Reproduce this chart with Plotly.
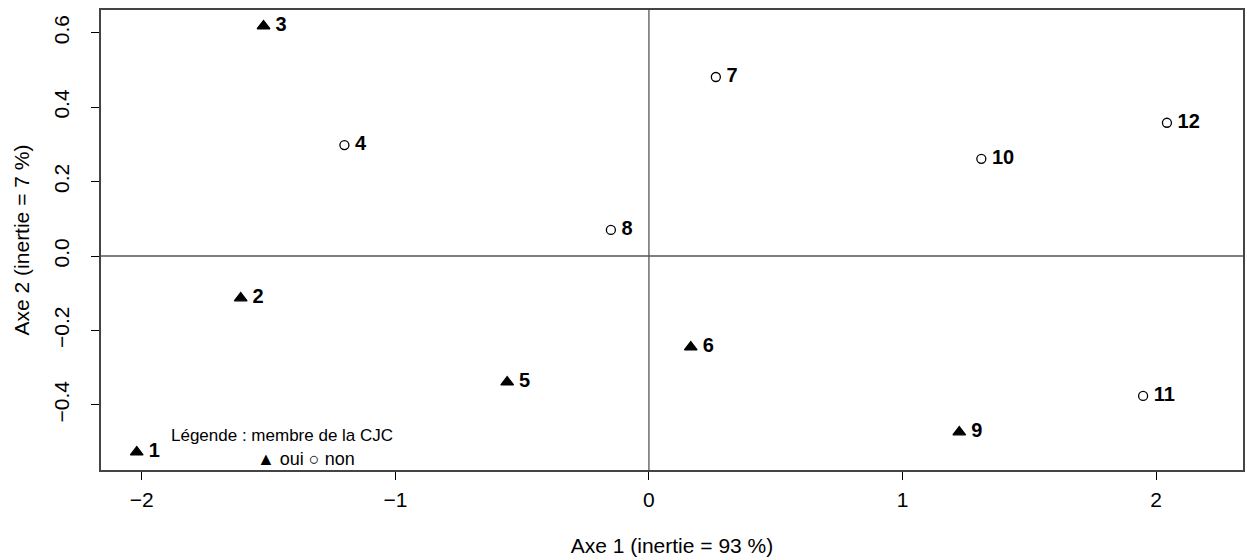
import plotly.graph_objects as go

ids = ["1", "2", "3", "4", "5", "6", "7", "8", "9", "10", "11", "12"]
axe1 = [-2.020, -1.610, -1.520, -1.201, -0.559, 0.165, 0.264, -0.150, 1.224, 1.311, 1.949, 2.043]
axe2 = [-0.527, -0.113, 0.618, 0.298, -0.339, -0.245, 0.481, 0.070, -0.473, 0.261, -0.376, 0.358]
cjc = ["oui", "oui", "oui", "non", "oui", "oui", "non", "non", "oui", "non", "non", "non"]

x_ticks = [-2, -1, 0, 1, 2]
y_ticks = [-0.4, -0.2, 0.0, 0.2, 0.4, 0.6]
y_ticklabels = ["\u22120.4", "\u22120.2", "0.0", "0.2", "0.4", "0.6"]
x_ticklabels = ["\u22122", "\u22121", "0", "1", "2"]

FONT = "Liberation Sans, Arial, sans-serif"

fig = go.Figure()

for grp, sym in [("oui", "triangle-up"), ("non", "circle-open")]:
    xs = [x for x, g in zip(axe1, cjc) if g == grp]
    ys = [y for y, g in zip(axe2, cjc) if g == grp]
    ts = [t for t, g in zip(ids, cjc) if g == grp]
    fig.add_trace(go.Scatter(
        x=xs, y=ys, text=ts, mode="markers+text",
        texttemplate="\u2009%{text}",
        textposition="middle right",
        textfont=dict(family=FONT, size=20, color="black", weight="bold"),
        marker=dict(symbol=sym, size=11 if grp == "oui" else 9, color="black",
                    line=dict(color="black", width=1.3)),
        showlegend=False, cliponaxis=False, hoverinfo="skip",
    ))

fig.add_hline(y=0, line=dict(color="#555555", width=1.3))
fig.add_vline(x=0, line=dict(color="#555555", width=1.3))

fig.add_annotation(x=-1.449, y=-0.481, text="Légende : membre de la CJC", showarrow=False,
                   font=dict(family=FONT, size=17, color="black"))
fig.add_annotation(x=-1.352, y=-0.546, text="\u25b2 oui \u25cb non", showarrow=False,
                   font=dict(family=FONT, size=18, color="black"))

fig.update_xaxes(range=[-2.161, 2.343], tickvals=x_ticks, ticktext=x_ticklabels,
                 showgrid=False, zeroline=False, ticks="outside", ticklen=8,
                 tickcolor="black", showline=True, linecolor="#444444", linewidth=1.5,
                 mirror=True, tickfont=dict(family=FONT, size=21, color="black"),
                 ticklabelstandoff=2,
                 title=dict(text="Axe 1 (inertie = 93 %)", font=dict(family=FONT, size=21, color="black"),
                            standoff=28))
fig.update_yaxes(range=[-0.575, 0.661], tickvals=y_ticks, ticktext=y_ticklabels,
                 showgrid=False, zeroline=False, ticks="outside", ticklen=8,
                 tickcolor="black", showline=True, linecolor="#444444", linewidth=1.5,
                 mirror=True, tickangle=-90, tickfont=dict(family=FONT, size=21, color="black"),
                 ticklabelstandoff=14,
                 title=dict(text="Axe 2 (inertie = 7 %)", font=dict(family=FONT, size=21, color="black"),
                            standoff=14))

fig.update_layout(width=1247, height=560, plot_bgcolor="white", paper_bgcolor="white",
                  margin=dict(l=101, r=2, t=10, b=90))

fig.write_html("out.html", config={"displayModeBar": False},
               post_script="document.body.style.margin='0';document.body.style.overflow='hidden';")
